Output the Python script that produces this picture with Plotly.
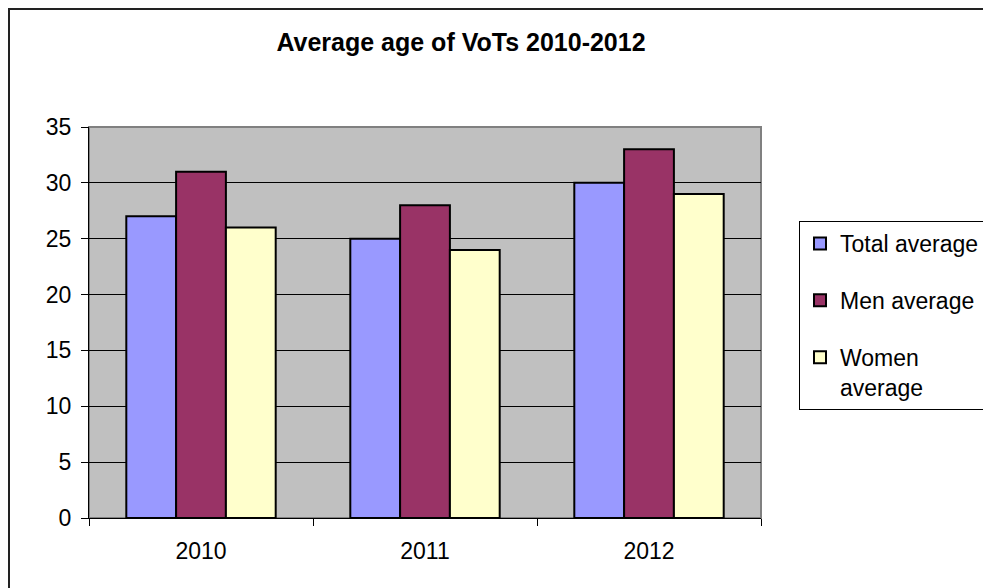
import plotly.graph_objects as go

# Average age of VoTs by year
years = ["2010", "2011", "2012"]
total_avg = [27, 25, 30]
men_avg = [31, 28, 33]
women_avg = [26, 24, 29]

series_names = ["Total average", "Men average", "Women<br>average"]
series_colors = ["#9999FF", "#993366", "#FFFFCC"]
series_values = [total_avg, men_avg, women_avg]

W, H = 983, 588
L, R, T, B = 89, 222, 127, 70
pw, ph = W - L - R, H - T - B

fig = go.Figure()
for i, (name, vals, col) in enumerate(zip(series_names, series_values, series_colors)):
    fig.add_trace(go.Bar(
        x=years, y=vals, name=name,
        marker=dict(color=col, line=dict(color="black", width=2)),
        legendgroup=f"g{i}",
    ))

font = "Liberation Sans, Arial, sans-serif"

fig.update_layout(
    width=W, height=H,
    margin=dict(l=L, r=R, t=T, b=B, autoexpand=False),
    paper_bgcolor="white",
    plot_bgcolor="#C0C0C0",
    barmode="group",
    bargap=0.333,
    bargroupgap=0,
    font=dict(family=font, size=23, color="black"),
    title=dict(
        text="<b>Average age of VoTs 2010-2012</b>",
        font=dict(family=font, size=25, color="black"),
        x=(461 - L) / pw, xref="paper", xanchor="center",
        y=1 - 42 / H, yref="container", yanchor="middle",
    ),
    legend=dict(
        x=(799 - L) / pw, xanchor="left",
        y=(H - B - 221) / ph, yanchor="top",
        bgcolor="white",
        bordercolor="black", borderwidth=1,
        font=dict(family=font, size=23, color="black"),
        traceorder="grouped",
        tracegroupgap=24,
        itemwidth=30,
        valign="top",
    ),
    xaxis=dict(
        showline=True, linecolor="black", linewidth=1,
        ticks="outside", tickson="boundaries", ticklen=7, tickcolor="black",
        ticklabelstandoff=12,
        showgrid=False,
    ),
    yaxis=dict(
        range=[0, 35], dtick=5,
        showline=True, linecolor="black", linewidth=1,
        ticks="outside", ticklen=7, tickcolor="black",
        ticklabelstandoff=5,
        showgrid=True, gridcolor="black", gridwidth=1,
        zeroline=False,
    ),
    shapes=[
        # outer chart frame
        dict(type="rect", xref="paper", yref="paper",
             x0=(9 - L) / pw, x1=1.6, y0=-0.5, y1=1 + (T - 9) / ph,
             line=dict(color="#222222", width=2), layer="below"),
        # plot-area frame
        dict(type="rect", xref="paper", yref="paper",
             x0=0, x1=1, y0=0, y1=1,
             line=dict(color="#808080", width=2), layer="below"),
    ],
)

fig.write_html("out.html")
